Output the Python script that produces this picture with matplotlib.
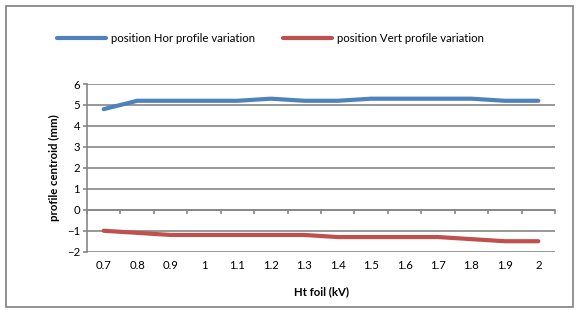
import numpy as np
import matplotlib
matplotlib.use("Agg")
import matplotlib.pyplot as plt
from matplotlib.patches import Rectangle

plt.rcParams['font.family'] = ['Lato', 'DejaVu Sans']

categories = ['0.7', '0.8', '0.9', '1', '1.1', '1.2', '1.3', '1.4', '1.5', '1.6', '1.7', '1.8', '1.9', '2']
hor = [4.8, 5.2, 5.2, 5.2, 5.2, 5.3, 5.2, 5.2, 5.3, 5.3, 5.3, 5.3, 5.2, 5.2]
vert = [-1.0, -1.1, -1.2, -1.2, -1.2, -1.2, -1.2, -1.3, -1.3, -1.3, -1.3, -1.4, -1.5, -1.5]

BLUE = '#4F81BD'
RED = '#C0504D'
GRID = '#868686'
FS = 8.2

fig = plt.figure(figsize=(5.8, 3.1), dpi=100)
ax = fig.add_axes([0.150, 0.188, 0.807, 0.541])

x = np.arange(len(categories))
ax.plot(x, hor, color=BLUE, lw=3, solid_capstyle='round', label='position Hor profile variation')
ax.plot(x, vert, color=RED, lw=3, solid_capstyle='round', label='position Vert profile variation')

ax.set_xlim(-0.5, len(categories) - 0.5)
ax.set_ylim(-2, 6)
ax.set_yticks(range(-2, 7))
ax.yaxis.grid(True, color=GRID, lw=1.2)
ax.set_axisbelow(True)

ax.set_xticks(x)
ax.set_xticklabels(categories)
ax.tick_params(axis='x', length=0, pad=6, labelsize=FS)
ax.tick_params(axis='y', length=3, color=GRID, width=1.2, labelsize=FS, pad=2)

for s in ['top', 'right', 'bottom']:
    ax.spines[s].set_visible(False)
ax.spines['left'].set_color(GRID)
ax.spines['left'].set_linewidth(1.2)

# category axis crossing at zero
sec = ax.secondary_xaxis(0.25)
sec.set_xticks(np.arange(len(categories) + 1) - 0.5)
sec.set_xticklabels([])
sec.tick_params(length=3, color=GRID, width=1.2, direction='out')
sec.spines['bottom'].set_color(GRID)
sec.spines['bottom'].set_linewidth(1.2)

ax.set_ylabel('profile centroid (mm)', fontsize=FS, fontweight='bold', labelpad=5)
ax.set_xlabel('Ht foil (kV)', fontsize=FS, fontweight='bold', labelpad=11)

fig.legend(loc='center', bbox_to_anchor=(0.466, 0.877), ncol=2, frameon=False,
           fontsize=FS, handlelength=4.3, columnspacing=2.5, handletextpad=0.4)

fig.patches.append(Rectangle((6 / 580, 3 / 310), 567 / 580, 301 / 310, transform=fig.transFigure,
                             fill=False, edgecolor='#7f7f7f', lw=1.2))

fig.savefig('out.png', dpi=100)
